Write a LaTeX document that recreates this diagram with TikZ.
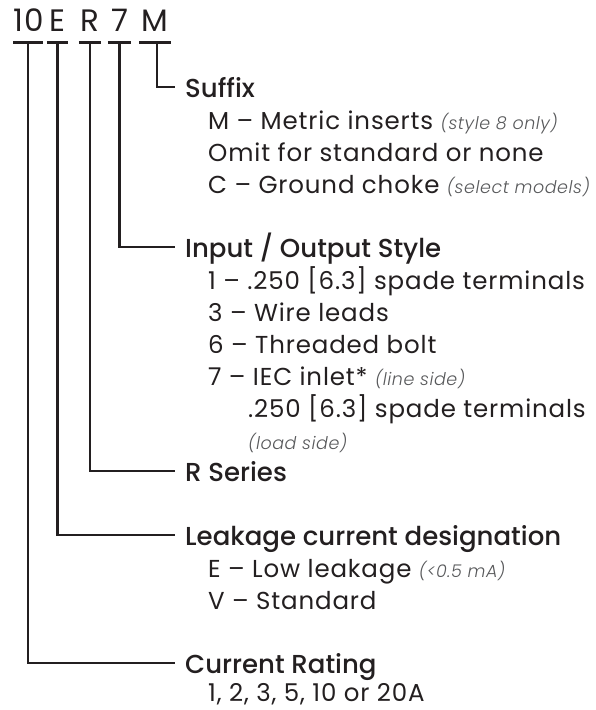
\documentclass[tikz,border=0pt]{standalone}
\usepackage{fontspec}
\setmainfont{Poppins}[BoldFont={Poppins Medium},ItalicFont={Poppins Light Italic}]
\usepackage{xcolor}
\definecolor{ink}{HTML}{231F20}
\definecolor{notegray}{HTML}{58595B}
\newcommand{\notetext}[1]{{\color{notegray}\fontsize{17.5}{19}\selectfont\itshape
  \addfontfeatures{LetterSpace=3}#1}}
\tikzset{
  code/.style={font=\fontsize{31}{32}\selectfont\addfontfeatures{LetterSpace=2},
    inner sep=0pt, anchor=base, align=center, text=ink},
  title/.style={font=\fontsize{26}{28}\selectfont\bfseries, anchor=base west,
    inner ysep=0pt, inner xsep=10pt, text height=20pt, text depth=0pt, text=ink},
  entry/.style={font=\fontsize{24.5}{26}\selectfont\addfontfeatures{LetterSpace=3.5},
    anchor=base west, inner sep=0pt, text=ink},
  bar/.style={draw=ink, line width=3pt},
  leg/.style={draw=ink, line width=2.8pt},
}

\begin{document}
\begin{tikzpicture}[x=1pt,y=-1pt]
\useasboundingbox (0,0) rectangle (596,710);
% part number, one node per code
\node[code, text width=29pt] (rating) at (28,31)   {10};
\node[code, text width=21pt] (leak)   at (57.5,31) {E};
\node[code, text width=22pt] (series) at (90,31)   {R};
\node[code, text width=23pt] (style)  at (119.5,31) {7};
\node[code, text width=31pt] (suffix) at (155,31)  {M};
% bars under the codes
\foreach \n in {rating,leak,series,style,suffix}{
  \draw[bar] ([yshift=-11pt]\n.base west) -- ([yshift=-11pt]\n.base east);
}
% field titles
\node[title] (tsuffix) at (175,97)  {Suffix};
\node[title] (tstyle)  at (175,257) {Input / Output Style};
\node[title] (tseries) at (175,481) {R Series};
\node[title] (tleak)   at (175,545) {Leakage current designation};
\node[title] (trating) at (175,673) {Current Rating};
% legs from the bars to the titles
\draw[leg] ([xshift=2pt,yshift=-11pt]suffix.base) |- (tsuffix.west);
\draw[leg] ([yshift=-11pt]style.base)  |- (tstyle.west);
\draw[leg] ([yshift=-11pt]series.base) |- (tseries.west);
\draw[leg] ([yshift=-11pt]leak.base)   |- (tleak.west);
\draw[leg] ([yshift=-11pt]rating.base) |- (trating.west);
% options
\node[entry] (suf1) at (208,129) {M – Metric inserts \notetext{(style 8 only)}};
\node[entry] (suf2) at (208,161) {Omit for standard or none};
\node[entry] (suf3) at (208,193) {C – Ground choke \notetext{(select models)}};
\node[entry] (sty1) at (208,289) {1 – .250 [6.3] spade terminals};
\node[entry] (sty3) at (208,321) {3 – Wire leads};
\node[entry] (sty6) at (208,353) {6 – Threaded bolt};
\node[entry] (sty7) at (208,385) {7 – IEC inlet* \notetext{(line side)}};
\node[entry] (sty7b) at (248,417) {.250 [6.3] spade terminals};
\node[entry] (sty7c) at (248,449) {\notetext{(load side)}};
\node[entry] (leakE) at (208,577) {E – Low leakage \notetext{(<0.5 mA)}};
\node[entry] (leakV) at (208,609) {V – Standard};
\node[entry] (rate)  at (208,701) {1, 2, 3, 5, 10 or 20A};
\end{tikzpicture}
\end{document}
